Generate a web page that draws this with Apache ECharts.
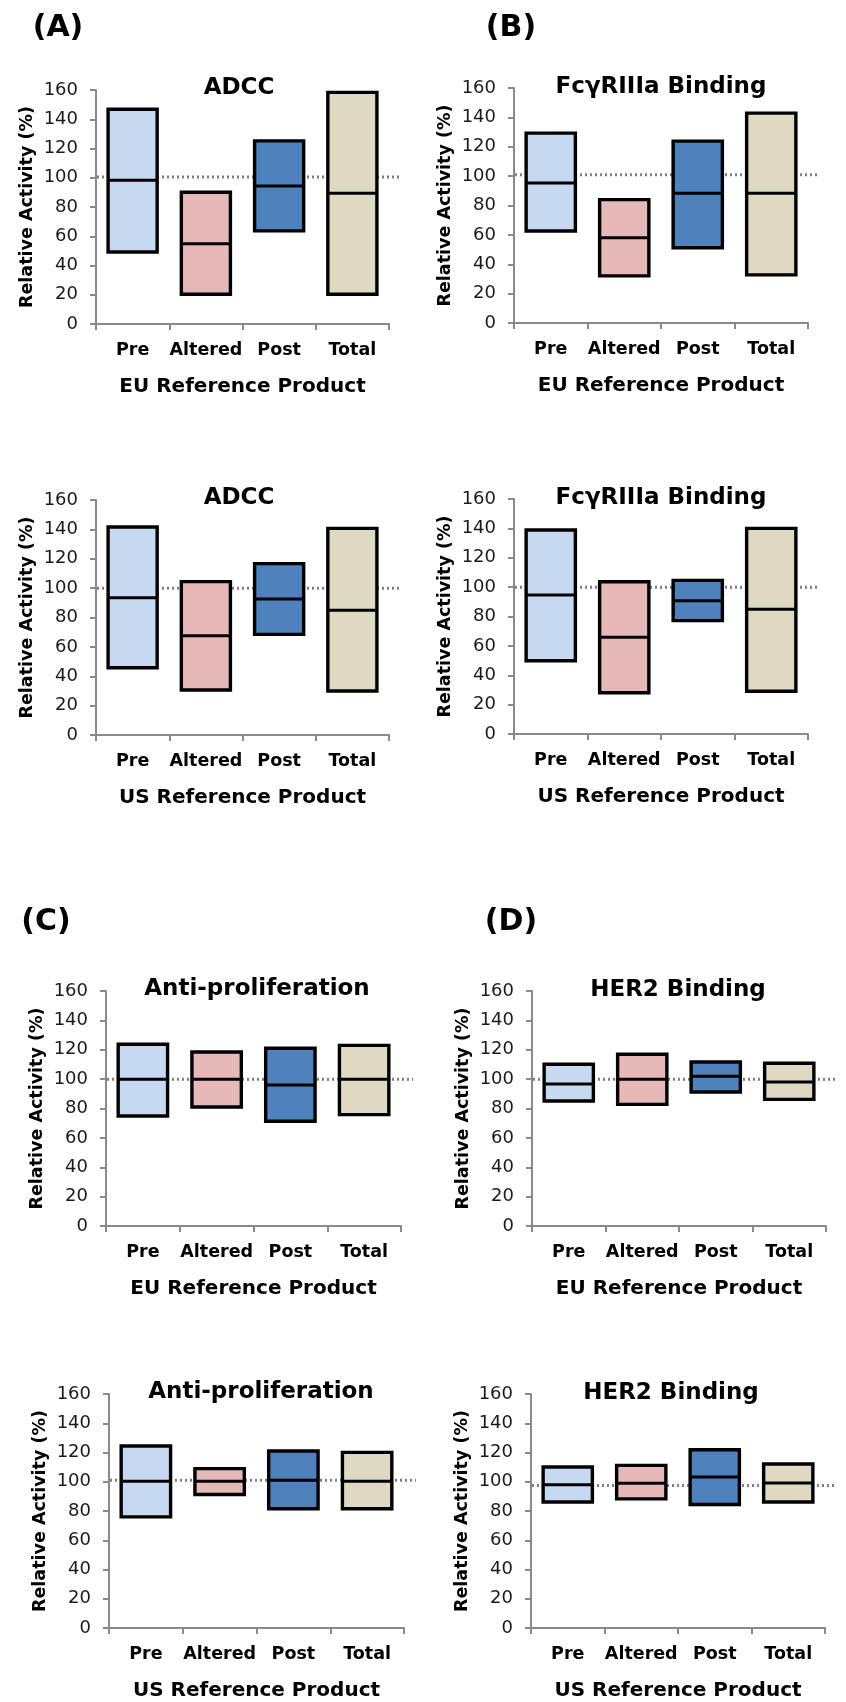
<!DOCTYPE html>
<html>
<head>
<meta charset="utf-8">
<script src="https://cdn.jsdelivr.net/npm/echarts@6/dist/echarts.min.js"></script>
<style>
  html, body { margin: 0; padding: 0; background: #ffffff; }
  #chart { width: 846px; height: 1702px; }
</style>
</head>
<body>
<div id="chart"></div>
<script>
// ---------------- DATA ----------------
const categories = ['Pre', 'Altered', 'Post', 'Total'];
const yTicks = [0, 20, 40, 60, 80, 100, 120, 140, 160];

// (A) ADCC – EU
const euAdccLow  = [49.2, 20.3, 63.7, 20.3];
const euAdccMed  = [98.3, 54.8, 94.4, 89.4];
const euAdccHigh = [146.8, 90.1, 125.2, 158.4];
// (B) FcγRIIIa Binding – EU
const euFcLow  = [62.6, 32.1, 51.2, 32.8];
const euFcMed  = [95.4, 58.0, 88.3, 88.3];
const euFcHigh = [129.3, 84.0, 123.8, 142.9];
// (A) ADCC – US
const usAdccLow  = [45.8, 30.6, 68.5, 30.0];
const usAdccMed  = [93.5, 67.6, 92.6, 84.9];
const usAdccHigh = [141.6, 104.4, 116.7, 140.7];
// (B) FcγRIIIa Binding – US
const usFcLow  = [49.9, 28.1, 77.2, 29.1];
const usFcMed  = [94.6, 65.8, 90.8, 84.9];
const usFcHigh = [138.9, 103.7, 104.6, 140.0];
// (C) Anti-proliferation – EU
const euApLow  = [74.9, 81.0, 71.3, 75.8];
const euApMed  = [99.9, 99.9, 96.0, 99.9];
const euApHigh = [123.7, 118.5, 121.0, 123.0];
// (D) HER2 Binding – EU
const euHerLow  = [85.1, 82.8, 91.2, 86.2];
const euHerMed  = [96.7, 99.9, 101.9, 98.0];
const euHerHigh = [110.1, 116.9, 111.7, 110.8];
// (C) Anti-proliferation – US
const usApLow  = [76.0, 91.3, 81.5, 81.5];
const usApMed  = [100.3, 100.3, 101.0, 100.3];
const usApHigh = [124.4, 109.0, 121.0, 120.1];
// (D) HER2 Binding – US
const usHerLow  = [86.2, 88.3, 84.4, 86.2];
const usHerMed  = [98.0, 99.0, 103.3, 99.2];
const usHerHigh = [110.1, 111.2, 121.9, 112.1];

// dotted reference level per panel (A-EU, B-EU, A-US, B-US, C-EU, D-EU, C-US, D-US)
const refLevels = [100.5, 101, 100, 100, 100, 100, 101, 97.5];

const panelTitles = ['ADCC', 'FcγRIIIa Binding', 'ADCC', 'FcγRIIIa Binding',
                     'Anti-proliferation', 'HER2 Binding', 'Anti-proliferation', 'HER2 Binding'];
const axisNames = ['EU Reference Product', 'EU Reference Product', 'US Reference Product', 'US Reference Product',
                   'EU Reference Product', 'EU Reference Product', 'US Reference Product', 'US Reference Product'];
const panelLetters = ['(A)', '(B)', '(C)', '(D)'];

const lows  = [euAdccLow, euFcLow, usAdccLow, usFcLow, euApLow, euHerLow, usApLow, usHerLow];
const meds  = [euAdccMed, euFcMed, usAdccMed, usFcMed, euApMed, euHerMed, usApMed, usHerMed];
const highs = [euAdccHigh, euFcHigh, usAdccHigh, usFcHigh, euApHigh, euHerHigh, usApHigh, usHerHigh];

// ---------------- STYLE / LAYOUT ----------------
const fillColors = ['#C6D9F1', '#E6B9B8', '#4F81BD', '#DDD9C3'];
const FONT = '"DejaVu Sans", "Liberation Sans", Arial, sans-serif';
const AXIS_GREY = '#8a8a8a';

const grids = [
  { left: 96,  top: 90,   width: 293, height: 234 },
  { left: 514, top: 88,   width: 294, height: 235 },
  { left: 96,  top: 500,  width: 293, height: 235 },
  { left: 514, top: 499,  width: 294, height: 235 },
  { left: 106, top: 991,  width: 295, height: 235 },
  { left: 532, top: 991,  width: 294, height: 235 },
  { left: 109, top: 1394, width: 295, height: 235 },
  { left: 531, top: 1394, width: 294, height: 235 }
];
const titlePos = [[239, 88], [661, 87], [239, 498], [661, 498], [257, 989], [678, 990], [261, 1392], [671, 1393]];
const letterPos = [[58, 28], [511, 28], [46, 922], [511, 922]];

function boxRender(params, api) {
  const ci = api.value(0);
  const pLo = api.coord([ci, api.value(1)]);
  const pMed = api.coord([ci, api.value(2)]);
  const pHi = api.coord([ci, api.value(3)]);
  const band = api.size([1, 0])[0];
  const w = band * 0.67;
  const x0 = pLo[0] - w / 2;
  return {
    type: 'group',
    children: [
      { type: 'rect', shape: { x: x0, y: pHi[1], width: w, height: pLo[1] - pHi[1] },
        style: { fill: fillColors[ci], stroke: '#000', lineWidth: 3.4 } },
      { type: 'line', shape: { x1: x0, y1: pMed[1], x2: x0 + w, y2: pMed[1] },
        style: { stroke: '#000', lineWidth: 3 } }
    ]
  };
}

function refRender(params, api) {
  const cs = params.coordSys;
  const y = api.coord([0, api.value(1)])[1];
  return {
    type: 'line',
    shape: { x1: cs.x + 1, y1: y, x2: cs.x + cs.width + 12, y2: y },
    style: { stroke: '#7f7f7f', lineWidth: 3, lineDash: [2, 3] }
  };
}

const option = {
  animation: false,
  backgroundColor: '#ffffff',
  grid: grids.map(g => Object.assign({ containLabel: false }, g)),
  xAxis: grids.map((g, i) => ({
    type: 'category',
    gridIndex: i,
    data: categories,
    boundaryGap: true,
    axisLine: { show: true, lineStyle: { color: AXIS_GREY, width: 2 } },
    axisTick: { show: true, interval: 0, length: 6, lineStyle: { color: AXIS_GREY, width: 2 } },
    axisLabel: { interval: 0, hideOverlap: false, margin: 17, color: '#000', fontFamily: FONT, fontWeight: 'bold', fontSize: 17.5 },
    splitLine: { show: false },
    name: axisNames[i],
    nameLocation: 'middle',
    nameGap: 53,
    nameTextStyle: { color: '#000', fontFamily: FONT, fontWeight: 'bold', fontSize: 20 }
  })),
  yAxis: grids.map((g, i) => ({
    type: 'value',
    gridIndex: i,
    min: yTicks[0],
    max: yTicks[yTicks.length - 1],
    interval: yTicks[1] - yTicks[0],
    axisLine: { show: true, lineStyle: { color: AXIS_GREY, width: 2 } },
    axisTick: { show: true, length: 6, lineStyle: { color: AXIS_GREY, width: 2 } },
    axisLabel: { margin: 18, color: '#1a1a1a', fontFamily: FONT, fontSize: 18 },
    splitLine: { show: false },
    name: 'Relative Activity (%)',
    nameLocation: 'middle',
    nameGap: 60,
    nameTextStyle: { color: '#000', fontFamily: FONT, fontWeight: 'bold', fontSize: 17.5 }
  })),
  series: [],
  graphic: []
};

grids.forEach((g, i) => {
  option.series.push({
    type: 'custom',
    xAxisIndex: i, yAxisIndex: i,
    renderItem: refRender,
    data: [[0, refLevels[i]]],
    z: 1,
    silent: true
  });
  option.series.push({
    type: 'custom',
    xAxisIndex: i, yAxisIndex: i,
    renderItem: boxRender,
    data: categories.map((c, k) => [k, lows[i][k], meds[i][k], highs[i][k]]),
    z: 2,
    silent: true
  });
  option.graphic.push({
    type: 'text',
    x: titlePos[i][0], y: titlePos[i][1],
    style: { text: panelTitles[i], align: 'center', verticalAlign: 'middle',
             fontFamily: FONT, fontWeight: 'bold', fontSize: 23, fill: '#000' }
  });
});

panelLetters.forEach((t, i) => {
  option.graphic.push({
    type: 'text',
    x: letterPos[i][0], y: letterPos[i][1],
    style: { text: t, align: 'center', verticalAlign: 'middle',
             fontFamily: FONT, fontWeight: 'bold', fontSize: 30, fill: '#000' }
  });
});

const chart = echarts.init(document.getElementById('chart'));
chart.setOption(option);
</script>
</body>
</html>
